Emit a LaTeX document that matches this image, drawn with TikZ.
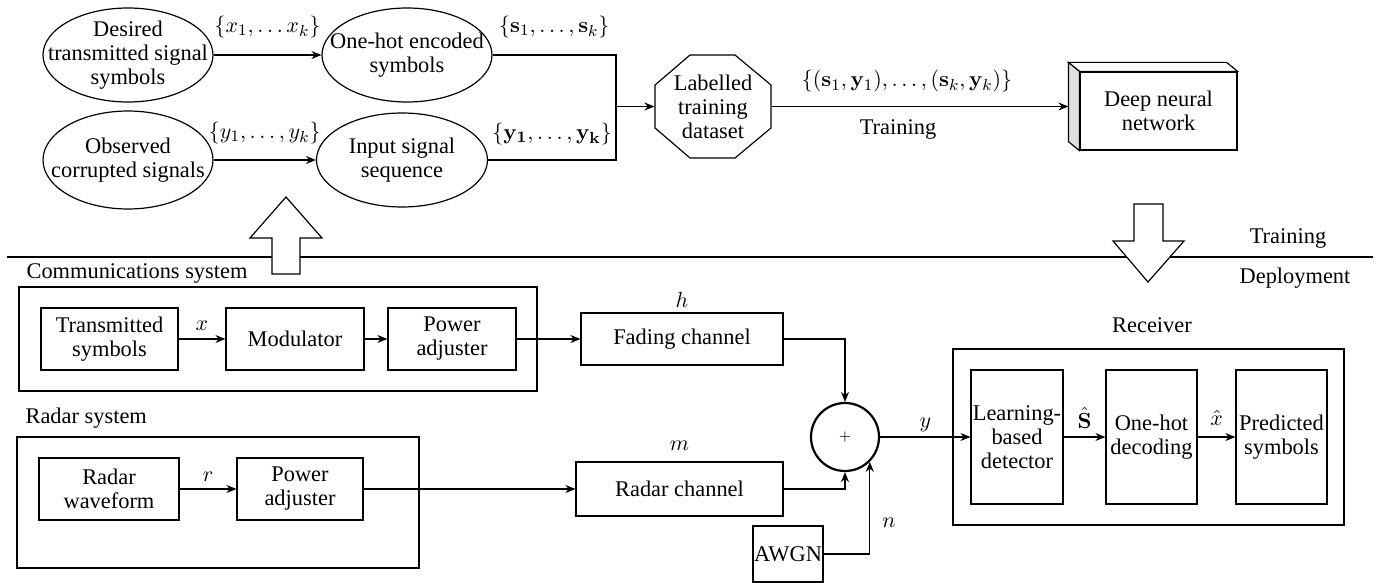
\documentclass[tikz,border=0pt]{standalone}
\usepackage[no-math]{fontspec}
\setmainfont{Liberation Serif}
\usetikzlibrary{shapes.geometric,arrows.meta,calc}
\begin{document}
\begin{tikzpicture}[x=0.5pt,y=-0.5pt,line width=0.6pt,
  font=\fontsize{11.2}{12}\selectfont,
  blk/.style={draw, rectangle, align=center, inner sep=0pt},
  ell/.style={draw, ellipse, inner sep=0pt},
  txt/.style={align=center, inner sep=0pt},
  lab/.style={inner sep=1pt},
  arr/.style={-{Stealth[length=5pt,width=4pt]}},
  bigarrow/.style={draw, fill=white, line join=miter},
]
\useasboundingbox (0,0) rectangle (1391,583);

% ---------- Training part ----------
\node[ell, minimum width=85pt, minimum height=47pt] (e1) at (128,55) {};
\node[txt] (e1t) at (e1) {Desired\\transmitted signal\\symbols};
\node[ell, minimum width=85pt, minimum height=47pt] (e2) at (407,55) {};
\node[txt] (e2t) at (e2) {One-hot encoded\\symbols};
\node[ell, minimum width=85pt, minimum height=49pt] (e3) at (128,160) {};
\node[txt] (e3t) at (e3) {Observed\\corrupted signals};
\node[ell, minimum width=85.5pt, minimum height=47pt] (e4) at (402,160) {};
\node[txt] (e4t) at (e4) {Input signal\\sequence};

\draw[arr] (e1.east) -- node[lab, yshift=14pt] {$\{x_1,\ldots x_k\}$} (e2.west);
\draw[arr] (e3.east) -- node[lab, yshift=13.5pt] {$\{y_1,\ldots,y_k\}$} (e4.west);

\node[txt, minimum width=58pt, minimum height=51.5pt] (oct) at (713,106.5) {Labelled\\training\\dataset};
\draw (690,55) -- (735,55) -- (771,85) -- (771,128) -- (735,158) -- (690,158) -- (655,128) -- (655,85) -- cycle;

\coordinate (jn) at (616,106.5);
\draw (e2.east) -- node[lab, yshift=14pt] {$\{\mathbf{s}_1,\ldots,\mathbf{s}_k\}$} (e2.east -| jn) -- (jn);
\draw (e4.east) -- node[lab, yshift=13pt] {$\{\mathbf{y_1},\ldots,\mathbf{y_k}\}$} (e4.east -| jn) -- (jn);
\draw[arr] (jn) -- (oct.west);

\node[blk, minimum width=78.5pt, minimum height=39pt] (dnn) at (1158.5,111) {Deep neural\\network};
\coordinate (dnnb) at ($(dnn.north west)+(-11,-9)$);
\filldraw[fill=white, line join=miter] (dnn.north west) -- (dnnb) -- ($(dnn.north east)+(-11,-9)$) -- (dnn.north east) -- cycle;
\filldraw[fill=black!12, line join=miter] (dnn.north west) -- (dnnb) -- ($(dnn.south west)+(-11,-9)$) -- (dnn.south west) -- cycle;

\draw[arr] (oct.east) -- node[lab, yshift=12.5pt, xshift=-6.5pt] {$\{(\mathbf{s}_1,\mathbf{y}_1),\ldots,(\mathbf{s}_k,\mathbf{y}_k)\}$}
  node[lab, yshift=-11.5pt, xshift=-11pt] {Training} (oct.east -| dnnb);

% ---------- divider ----------
\coordinate (divl) at (7,257);
\coordinate (divr) at (1373,257);
\draw (divl) -- (divr);
\node (trainlbl) at (1288,238) {Training};
\node (deploylbl) at (1295,278) {Deployment};

\path[bigarrow] (272,274) -- (272,238) -- (250,238) -- (286,197) -- (322,238) -- (300,238) -- (300,274) -- cycle;
\path[bigarrow] (1134,204) -- (1163,204) -- (1163,241) -- (1184,241) -- (1148,282) -- (1113,241) -- (1134,241) -- cycle;

% ---------- Deployment part ----------
\node[blk, minimum width=259pt, minimum height=52pt] (comm) at (278,339) {};
\node[anchor=west, inner sep=0pt] (commlbl) at (26,273) {Communications system};
\node[blk, minimum width=68.5pt, minimum height=31pt] (ts) at (109.5,339) {Transmitted\\symbols};
\node[blk, minimum width=69pt, minimum height=31pt] (mod) at (295,339) {Modulator};
\node[blk, minimum width=64pt, minimum height=31pt] (pa1) at (452,339) {Power\\adjuster};
\node[blk, minimum width=101pt, minimum height=26pt] (fad) at (682,339) {Fading channel};
\node[lab] (hlbl) at ($(fad.north)+(0,-13)$) {$h$};

\node[blk, minimum width=201pt, minimum height=65.5pt] (radar) at (218,502.5) {};
\node[anchor=west, inner sep=0pt] (radlbl) at (25,418) {Radar system};
\node[blk, minimum width=70pt, minimum height=31pt] (rw) at (109,489) {Radar\\waveform};
\node[blk, minimum width=63pt, minimum height=31pt] (pa2) at (300,489) {Power\\adjuster};
\node[blk, minimum width=103.5pt, minimum height=27pt] (rch) at (679.5,489) {Radar channel};
\node[lab] (mlbl) at ($(rch.north)+(0,-16)$) {$m$};

\node[draw, circle, line width=1.1pt, minimum size=34pt, inner sep=0pt, font=\scriptsize] (sum) at (845,437) {$+$};
\node[blk, minimum width=35pt, minimum height=28pt] (awgn) at (788,554) {AWGN};

\node[blk, minimum width=195.5pt, minimum height=88pt] (recv) at (1148.5,437) {};
\node (recvlbl) at (1152,325) {Receiver};
\node[blk, minimum width=46pt, minimum height=67pt] (det) at (1017,437) {Learning-\\based\\detector};
\node[blk, minimum width=45.5pt, minimum height=67pt] (dec) at (1151.5,437) {One-hot\\decoding};
\node[blk, minimum width=45.5pt, minimum height=67pt] (pred) at (1281.5,437) {Predicted\\symbols};

\draw[arr] (ts) -- node[lab, yshift=6.5pt] {$x$} (mod);
\draw[arr] (mod) -- (pa1);
\draw[arr] (pa1) -- (fad);
\draw[arr] (rw) -- node[lab, yshift=6pt] {$r$} (pa2);
\draw[arr] (pa2) -- (rch);
\draw[arr] (fad.east) -| (sum.north);
\draw[arr] (rch.east) -| (sum.south);
\draw[arr] (awgn.east) -| node[lab, pos=0.67, xshift=9.5pt] {$n$} (sum.-45);
\draw[arr] (sum.east) -- node[lab, yshift=6pt] {$y$} (det.west);
\draw[arr] (det) -- node[lab, yshift=9.5pt] {$\hat{\mathbf{S}}$} (dec);
\draw[arr] (dec) -- node[lab, yshift=9.5pt] {$\hat{x}$} (pred);
\end{tikzpicture}
\end{document}
